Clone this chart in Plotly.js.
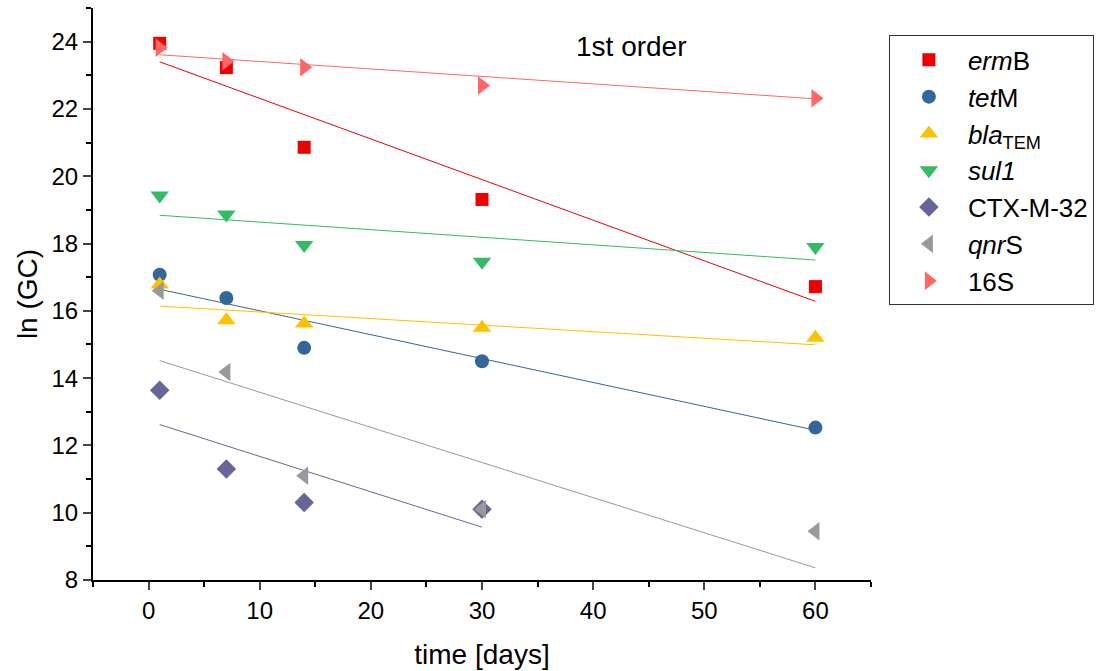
<!DOCTYPE html>
<html>
<head>
<meta charset="utf-8">
<script src="https://cdn.plot.ly/plotly-3.0.1.min.js"></script>
<style>html,body{margin:0;padding:0;background:#fff;}#chart{width:1111px;height:671px;}</style>
</head>
<body>
<div id="chart"></div>
<script>
// Measured days
const days = [1, 7, 14, 30, 60];
const daysCTX = [1, 7, 14, 30];

// ln(GC) values
const ermB = [23.95, 23.23, 20.86, 19.31, 16.72];
const tetM = [17.07, 16.38, 14.9, 14.5, 12.53];
const blaTEM = [16.78, 15.72, 15.62, 15.5, 15.2];
const sul1 = [19.43, 18.86, 17.96, 17.46, 17.9];
const ctx = [13.64, 11.3, 10.3, 10.1];
const qnrS = [16.6, 14.18, 11.1, 10.1, 9.45];
const s16 = [23.82, 23.42, 23.24, 22.7, 22.32];

// first-order fit lines (endpoints)
const fitX = [1, 60];
const fitXCTX = [1, 30];
const fitErmB = [23.4, 16.28];
const fitTetM = [16.64, 12.45];
const fitBla = [16.14, 14.99];
const fitSul1 = [18.84, 17.51];
const fitCtx = [12.62, 9.57];
const fitQnrS = [14.52, 8.36];
const fitS16 = [23.61, 22.3];

const names = ['<i>erm</i>B', '<i>tet</i>M', '<i>bla</i><sub>TEM</sub>', '<i>sul1</i>', 'CTX-M-32', '<i>qnr</i>S', '16S'];
const colors = ['#ee0000', '#336699', '#ffc000', '#33bb66', '#666699', '#999999', '#ff6666'];
const symbols = ['square', 'circle', 'triangle-up', 'triangle-down', 'diamond', 'triangle-left', 'triangle-right'];
const sizes = [13, 14, 16, 16, 15, 16, 16];

const series = [
  [days, ermB, fitX, fitErmB],
  [days, tetM, fitX, fitTetM],
  [days, blaTEM, fitX, fitBla],
  [days, sul1, fitX, fitSul1],
  [daysCTX, ctx, fitXCTX, fitCtx],
  [days, qnrS, fitX, fitQnrS],
  [days, s16, fitX, fitS16]
];

const traces = [];
series.forEach((s, i) => {
  traces.push({
    x: s[2], y: s[3], mode: 'lines', type: 'scatter',
    line: {color: colors[i], width: 1}, showlegend: false, hoverinfo: 'skip'
  });
});
series.forEach((s, i) => {
  traces.push({
    x: s[0], y: s[1], mode: 'markers', type: 'scatter', name: names[i],
    marker: {color: colors[i], symbol: symbols[i], size: sizes[i], line: {width: 0}}
  });
});

const layout = {
  width: 1111, height: 671,
  margin: {l: 93, r: 240, t: 8, b: 91},
  paper_bgcolor: '#fff', plot_bgcolor: '#fff',
  font: {family: 'Liberation Sans, Arial, sans-serif', color: '#000', size: 24},
  xaxis: {
    range: [-5, 65], tick0: 0, dtick: 10, ticks: 'outside', ticklen: 8, tickwidth: 2,
    showline: true, linewidth: 2, linecolor: '#000', showgrid: false, zeroline: false,
    tickfont: {size: 24},
    minor: {dtick: 5, ticks: 'outside', ticklen: 5, tickwidth: 2, tickcolor: '#000', showgrid: false},
    title: {text: 'time [days]', font: {size: 28}, standoff: 22}
  },
  yaxis: {
    range: [8, 25], tick0: 8, dtick: 2, ticks: 'outside', ticklen: 8, tickwidth: 2,
    showline: true, linewidth: 2, linecolor: '#000', showgrid: false, zeroline: false,
    tickfont: {size: 24},
    minor: {dtick: 1, ticks: 'outside', ticklen: 5, tickwidth: 2, tickcolor: '#000', showgrid: false},
    title: {text: 'ln (GC)', font: {size: 28}, standoff: 6}
  },
  legend: {
    x: 1.023, y: 0.952, xanchor: 'left', yanchor: 'top',
    bordercolor: '#333', borderwidth: 1, bgcolor: '#fff',
    font: {size: 26}, itemwidth: 68
  },
  annotations: [{
    xref: 'paper', yref: 'paper', x: 0.692, y: 0.932, xanchor: 'center', yanchor: 'middle',
    text: '1st order', showarrow: false, font: {size: 28}
  }]
};

Plotly.newPlot('chart', traces, layout, {displayModeBar: false});
</script>
</body>
</html>
